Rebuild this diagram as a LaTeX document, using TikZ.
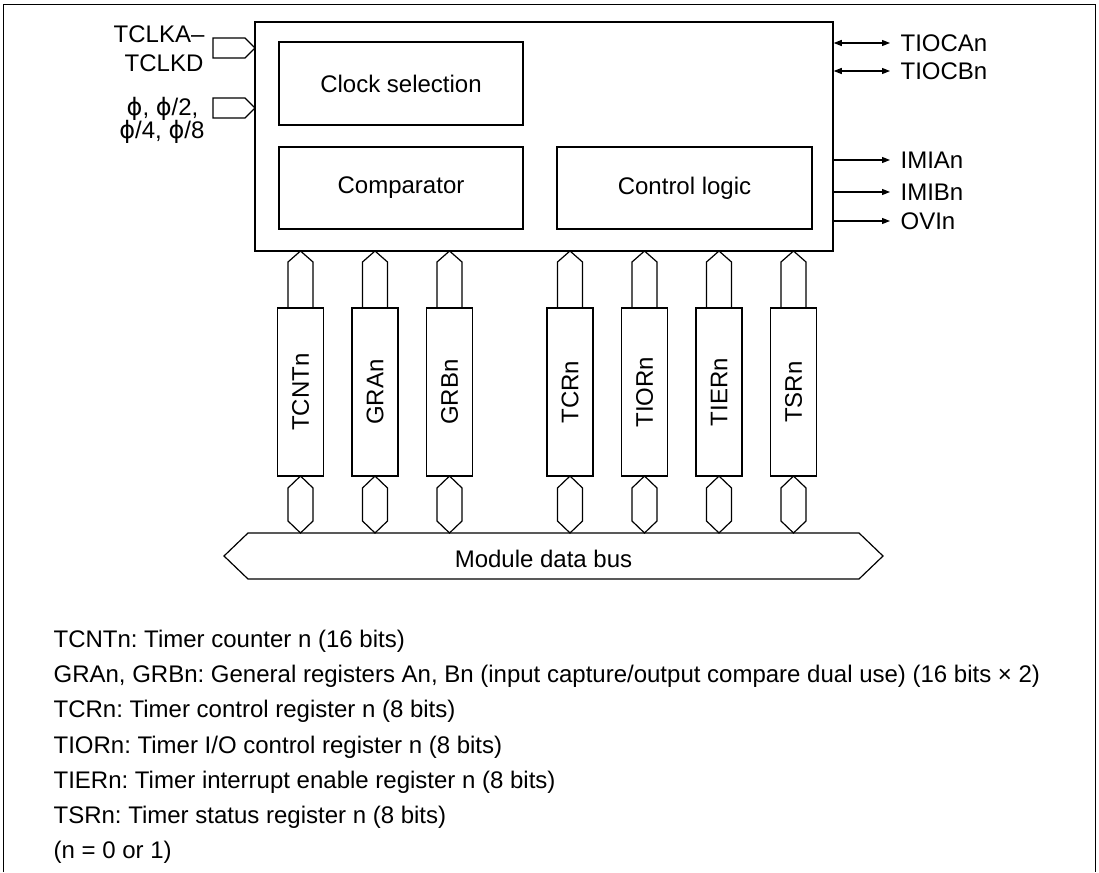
\documentclass[tikz,border=0pt]{standalone}
\usepackage{fontspec}
\setmainfont{Liberation Sans}
\newfontfamily\dvs{DejaVu Sans}
\usetikzlibrary{arrows.meta}
\newcommand{\ph}{{\dvs ϕ}}
\frenchspacing
\begin{document}
\begin{tikzpicture}[x=1pt,y=-1pt,line width=1.2pt,
  every node/.style={font=\fontsize{24}{28}\selectfont,inner sep=0pt},
  blk/.style={draw,rectangle},
  reg/.style={draw,rectangle,rotate=90,minimum width=168pt,minimum height=46pt},
  tip/.style={-{Triangle[length=8pt,width=6pt]}},
  dtip/.style={{Triangle[length=8pt,width=6pt]}-{Triangle[length=8pt,width=6pt]}},
  lbl/.style={anchor=base west}]
\useasboundingbox (0,0) rectangle (1099,872);
% outer frame
\draw[line width=1pt] (3,872) -- (3,5) -- (1095,5) -- (1095,872);
% main block
\node[blk,line width=1.5pt,minimum width=578pt,minimum height=229pt] (main) at (544,136.5) {};
\node[blk,minimum width=244pt,minimum height=83pt] (clk) at (401,83.5) {Clock selection};
\node[blk,minimum width=244pt,minimum height=82pt] (cmp) at (401,188) {Comparator};
\node[blk,minimum width=255pt,minimum height=82pt] (ctl) at (684.5,188) {Control logic};
% left inputs
\draw (213,38) -- (245,38) -- (255,48) -- (245,58) -- (213,58) -- cycle;
\draw (213,98) -- (245,98) -- (255,108) -- (245,118) -- (213,118) -- cycle;
\node[anchor=base east] (in1a) at (205,43) {TCLKA–};
\node[anchor=base east] (in1b) at (204,72) {TCLKD};
\node[anchor=base east] (in2a) at (199,115) {\ph, \ph/2,};
\node[anchor=base east] (in2b) at (205,138) {\ph/4, \ph/8};
% right outputs
\coordinate (oa) at (890,43);
\coordinate (ob) at (890,71);
\coordinate (oc) at (890,160);
\coordinate (od) at (890,192);
\coordinate (oe) at (890,221);
\draw[dtip] (main.east |- oa) -- (oa);
\draw[dtip] (main.east |- ob) -- (ob);
\draw[tip] (main.east |- oc) -- (oc);
\draw[tip] (main.east |- od) -- (od);
\draw[tip] (main.east |- oe) -- (oe);
\node[lbl] (la) at (900,51.5) {TIOCAn};
\node[lbl] (lb) at (900,79.5) {TIOCBn};
\node[lbl] (lc) at (900,168.5) {IMIAn};
\node[lbl] (ld) at (900,200.5) {IMIBn};
\node[lbl] (le) at (900,229.5) {OVIn};
% registers
\foreach \n/\x/\t in {tcnt/300.5/TCNTn, gra/375/GRAn, grb/449.5/GRBn, tcr/570/TCRn, tior/644.5/TIORn, tier/719/TIERn, tsr/793.5/TSRn}{
  \node[reg] (\n) at (\x,392) {\t};
  \draw ({\x-12.5},308) -- ({\x-12.5},262) -- (\x,251) -- ({\x+12.5},262) -- ({\x+12.5},308);
  \draw (\x,476) -- ({\x+12.5},488) -- ({\x+12.5},521) -- (\x,533) -- ({\x-12.5},521) -- ({\x-12.5},488) -- cycle;
}
% bus
\draw (248,533) -- (859,533) -- (883,556) -- (859,579) -- (248,579) -- (224,556) -- cycle;
\node[anchor=base] (bus) at (543.5,567) {Module data bus};
% legend
\node[lbl] (g1) at (53,647) {TCNTn: Timer counter n (16 bits)};
\node[lbl] (g2) at (53,682) {GRAn, GRBn: General registers An, Bn (input capture/output compare dual use) (16 bits × 2)};
\node[lbl] (g3) at (53,717) {TCRn: Timer control register n (8 bits)};
\node[lbl] (g4) at (53,753) {TIORn: Timer I/O control register n (8 bits)};
\node[lbl] (g5) at (53,788) {TIERn: Timer interrupt enable register n (8 bits)};
\node[lbl] (g6) at (53,823) {TSRn: Timer status register n (8 bits)};
\node[lbl] (g7) at (53,858) {(n = 0 or 1)};
\end{tikzpicture}
\end{document}
